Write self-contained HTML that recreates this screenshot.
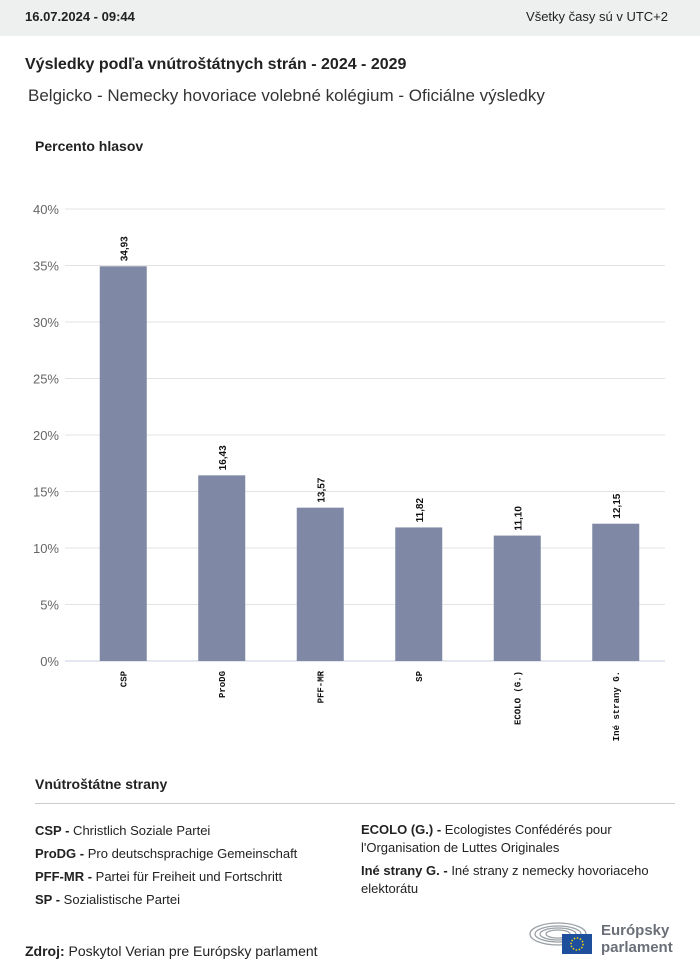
<!DOCTYPE html>
<html><head><meta charset="utf-8"><style>
body{margin:0;width:700px;height:977px;background:#fff;font-family:"Liberation Sans",sans-serif;position:relative;overflow:hidden;color:#222}
.abs{position:absolute}
</style></head><body>
<div class="abs" style="left:0;top:0;width:700px;height:36px;background:#eeefef"></div>
<div class="abs" style="left:25px;top:9px;font-size:13px;font-weight:bold">16.07.2024 - 09:44</div>
<div class="abs" style="right:32px;top:9px;font-size:13px">Všetky časy sú v UTC+2</div>
<div class="abs" style="left:25px;top:56px;font-size:16px;font-weight:bold">Výsledky podľa vnútroštátnych strán - 2024 - 2029</div>
<div class="abs" style="left:28px;top:86px;font-size:17px;color:#333">Belgicko - Nemecky hovoriace volebné kolégium - Oficiálne výsledky</div>
<div class="abs" style="left:35px;top:138px;font-size:14px;font-weight:bold">Percento hlasov</div>
<svg class="abs" style="left:0;top:0" width="700" height="770" id="chart"></svg>
<div class="abs" style="left:35px;top:776px;font-size:14px;font-weight:bold">Vnútroštátne strany</div>
<div class="abs" style="left:35px;top:803px;width:640px;height:1px;background:#ccc"></div>
<div class="abs" style="left:35px;top:819px;font-size:13px;line-height:23px">
<div><b>CSP -</b> Christlich Soziale Partei</div>
<div><b>ProDG -</b> Pro deutschsprachige Gemeinschaft</div>
<div><b>PFF-MR -</b> Partei für Freiheit und Fortschritt</div>
<div><b>SP -</b> Sozialistische Partei</div>
</div>
<div class="abs" style="left:361px;top:821px;width:300px;font-size:13px;line-height:18px">
<div style="margin-bottom:5px"><b>ECOLO (G.) -</b> Ecologistes Confédérés pour l'Organisation de Luttes Originales</div>
<div><b>Iné strany G. -</b> Iné strany z nemecky hovoriaceho elektorátu</div>
</div>
<div class="abs" style="left:25px;top:943px;font-size:14px"><b>Zdroj:</b> Poskytol Verian pre Európsky parlament</div>
<svg class="abs" style="left:528px;top:918px" width="70" height="38">
<g fill="none" stroke="#9aa0a6" stroke-width="1.3">
<ellipse cx="30" cy="16" rx="28" ry="11"/><ellipse cx="30" cy="16" rx="23" ry="8"/><ellipse cx="30" cy="16" rx="18" ry="6"/><ellipse cx="30" cy="16" rx="12" ry="4"/></g>
<rect x="34" y="16" width="30" height="20" fill="#1d4f9c"/>
<circle cx="49" cy="26" r="6" fill="none" stroke="#f2d200" stroke-width="1.5" stroke-dasharray="1.5 1.6"/>
</svg>
<div class="abs" style="left:601px;top:922px;font-size:15px;font-weight:bold;color:#6b7078;line-height:17px">Európsky<br>parlament</div>
<script>
const categories=["CSP","ProDG","PFF-MR","SP","ECOLO (G.)","Iné strany G."];
const values=[34.93,16.43,13.57,11.82,11.10,12.15];
const valueLabels=["34,93","16,43","13,57","11,82","11,10","12,15"];
const ticks=[0,5,10,15,20,25,30,35,40];
const svg=document.getElementById('chart');
const NS='http://www.w3.org/2000/svg';
const x0=74,x1=665,y0=661,yTop=209;
const y=v=>y0-(v/40)*(y0-yTop);
const bw=(x1-x0)/categories.length;
function mk(t,a){const e=document.createElementNS(NS,t);for(const k in a)e.setAttribute(k,a[k]);svg.appendChild(e);return e;}
ticks.forEach(t=>{
 const l=mk('line',{x1:65,x2:x1,y1:y(t),y2:y(t),stroke:t===0?'#c8cce0':'#e3e3e3','stroke-width':1});
 
 
 const tx=mk('text',{x:59,y:y(t)+5,'text-anchor':'end','font-size':13,fill:'#666','font-family':'Liberation Sans, sans-serif'});
 tx.textContent=t+'%';
 
 
});
categories.forEach((c,i)=>{
 const cx=x0+bw*(i+0.5);
 const r=mk('rect',{x:cx-23.5,y:y(values[i]),width:47,height:y0-y(values[i]),fill:'#7f88a4'});
 
 
 const vl=mk('text',{transform:`translate(${cx+4},${y(values[i])-5}) rotate(-90)`,'font-size':10,'font-weight':'bold',fill:'#111','font-family':'Liberation Sans, sans-serif'});
 vl.textContent=valueLabels[i];
 
 
 const cl=mk('text',{transform:`translate(${cx+3},${y0+10}) rotate(-90)`,'text-anchor':'end','font-size':9,'font-weight':'bold',fill:'#111','font-family':'Liberation Mono, monospace'});
 cl.textContent=c;
 
 
});
</script>
</body></html>
